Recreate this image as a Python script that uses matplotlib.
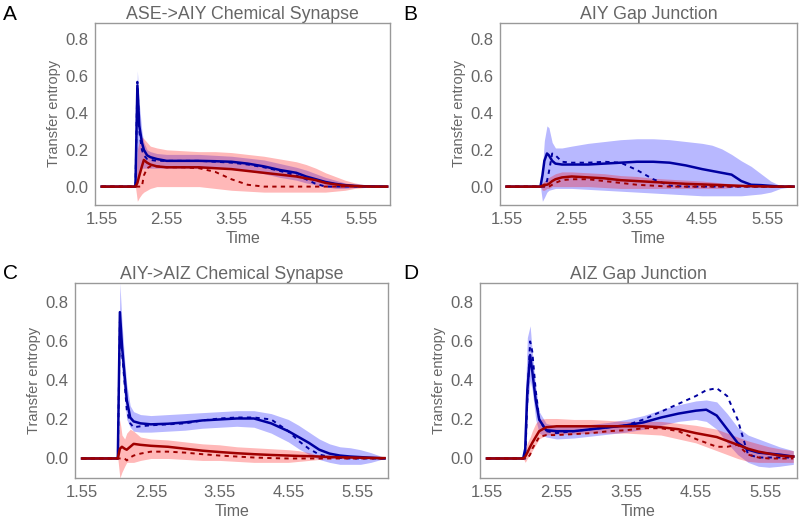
import numpy as np
import matplotlib
matplotlib.use("Agg")
import matplotlib.pyplot as plt

plt.rcParams['font.family'] = ['Liberation Sans', 'DejaVu Sans']

# common time grid
T = [1.55, 2.07, 2.1, 2.13, 2.17, 2.2, 2.25, 2.3, 2.4, 2.55, 2.8, 3.05, 3.3, 3.55,
     3.8, 4.05, 4.3, 4.55, 4.7, 4.85, 5.0, 5.15, 5.3, 5.45, 5.6, 5.75, 5.95]

titles = ["ASE->AIY Chemical Synapse", "AIY Gap Junction",
          "AIY->AIZ Chemical Synapse", "AIZ Gap Junction"]
letters = ["A", "B", "C", "D"]

# panel A
a_blue = [0, 0, 0.55, 0.33, 0.24, 0.2, 0.17, 0.16, 0.15, 0.14, 0.14, 0.14, 0.138, 0.135,
          0.125, 0.11, 0.09, 0.075, 0.055, 0.04, 0.025, 0.015, 0.008, 0.004, 0.002, 0.001, 0]
a_blue_d = [0, 0, 0.57, 0.3, 0.2, 0.17, 0.15, 0.145, 0.14, 0.14, 0.14, 0.14, 0.135, 0.13,
            0.12, 0.105, 0.085, 0.06, 0.04, 0.015, 0, 0, 0, 0, 0, 0, 0]
a_blue_lo = [0, 0, 0.0, 0.1, 0.1, 0.1, 0.1, 0.1, 0.1, 0.1, 0.1, 0.1, 0.1, 0.095,
             0.085, 0.07, 0.05, 0.035, 0.02, 0.01, 0.0, -0.01, -0.01, -0.005, 0, 0, 0]
a_blue_hi = [0, 0, 0.63, 0.45, 0.3, 0.24, 0.2, 0.19, 0.18, 0.175, 0.175, 0.175, 0.17, 0.165,
             0.155, 0.145, 0.125, 0.105, 0.09, 0.07, 0.05, 0.035, 0.02, 0.01, 0.005, 0, 0]
a_red = [0, 0, 0.02, 0.06, 0.11, 0.145, 0.13, 0.12, 0.11, 0.105, 0.105, 0.105, 0.1, 0.095,
         0.085, 0.075, 0.065, 0.055, 0.045, 0.035, 0.02, 0.012, 0.006, 0.003, 0.001, 0, 0]
a_red_d = [0, 0, 0, 0, 0.0, 0.06, 0.1, 0.11, 0.11, 0.105, 0.105, 0.1, 0.08, 0.04,
           0.01, 0.0, 0, 0, 0, 0, 0, 0, 0, 0, 0, 0, 0]
a_red_lo = [0, 0, -0.08, -0.06, -0.04, -0.03, -0.02, -0.01, 0.0, 0.0, 0.0, 0.0, -0.01, -0.02,
            -0.025, -0.03, -0.03, -0.03, -0.03, -0.03, -0.03, -0.025, -0.02, -0.01, -0.005, 0, 0]
a_red_hi = [0, 0, 0.2, 0.25, 0.27, 0.26, 0.24, 0.22, 0.21, 0.2, 0.195, 0.19, 0.19, 0.185,
            0.175, 0.165, 0.15, 0.135, 0.12, 0.1, 0.075, 0.055, 0.035, 0.02, 0.01, 0.003, 0]

# panel B
b_blue = [0, 0, 0.06, 0.14, 0.18, 0.17, 0.14, 0.125, 0.12, 0.12, 0.12, 0.125, 0.13, 0.135,
          0.135, 0.13, 0.115, 0.095, 0.085, 0.075, 0.065, 0.03, 0.01, 0.008, 0.004, 0, 0]
b_blue_d = [0, 0, 0, 0, 0.03, 0.08, 0.18, 0.17, 0.135, 0.13, 0.13, 0.135, 0.13, 0.09,
            0.04, 0.005, 0, 0, 0, 0, 0, 0, 0, 0, 0, 0, 0]
b_blue_lo = [0, 0, -0.08, -0.06, -0.03, -0.02, -0.015, -0.01, -0.01, -0.01, -0.015, -0.02, -0.025, -0.03,
             -0.035, -0.04, -0.045, -0.05, -0.05, -0.05, -0.05, -0.05, -0.045, -0.04, -0.03, -0.01, 0]
b_blue_hi = [0, 0, 0.1, 0.25, 0.33, 0.32, 0.24, 0.21, 0.21, 0.22, 0.235, 0.245, 0.255, 0.26,
             0.26, 0.255, 0.245, 0.235, 0.225, 0.205, 0.175, 0.14, 0.11, 0.07, 0.03, 0.005, 0]
b_red = [0, 0, 0.005, 0.01, 0.01, 0.015, 0.03, 0.04, 0.05, 0.055, 0.05, 0.045, 0.035, 0.03,
         0.025, 0.02, 0.015, 0.012, 0.01, 0.008, 0.006, 0.004, 0.002, 0.001, 0, 0, 0]
b_red_d = [0, 0, 0, 0, -0.005, 0.0, 0.01, 0.02, 0.035, 0.04, 0.04, 0.03, 0.02, 0.01,
           0.005, 0, 0, 0, 0, 0, 0, 0, 0, 0, 0, 0, 0]
b_red_lo = [0, 0, -0.02, -0.02, -0.01, -0.01, 0.0, 0.0, 0.0, 0.0, 0.0, -0.005, -0.01, -0.01,
            -0.01, -0.01, -0.01, -0.01, -0.01, -0.01, -0.005, 0, 0, 0, 0, 0, 0]
b_red_hi = [0, 0, 0.02, 0.03, 0.04, 0.05, 0.06, 0.07, 0.08, 0.08, 0.075, 0.07, 0.06, 0.055,
            0.045, 0.04, 0.035, 0.03, 0.025, 0.02, 0.015, 0.01, 0.005, 0, 0, 0, 0]

# panel C
c_blue = [0, 0, 0.75, 0.58, 0.42, 0.3, 0.21, 0.19, 0.18, 0.175, 0.178, 0.185, 0.195, 0.2,
          0.205, 0.205, 0.18, 0.14, 0.11, 0.08, 0.045, 0.025, 0.015, 0.01, 0.007, 0.004, 0]
c_blue_d = [0, 0, 0.7, 0.55, 0.38, 0.25, 0.18, 0.16, 0.165, 0.17, 0.175, 0.18, 0.195, 0.205,
            0.21, 0.21, 0.2, 0.14, 0.09, 0.05, 0.02, 0.008, 0.003, 0, 0, 0, 0]
c_blue_lo = [0, 0, 0.6, 0.45, 0.3, 0.2, 0.16, 0.14, 0.135, 0.135, 0.14, 0.145, 0.155, 0.16,
             0.165, 0.16, 0.13, 0.085, 0.05, 0.02, -0.005, -0.02, -0.03, -0.03, -0.03, -0.02, 0]
c_blue_hi = [0, 0, 0.9, 0.7, 0.5, 0.38, 0.27, 0.24, 0.225, 0.22, 0.225, 0.23, 0.235, 0.24,
             0.245, 0.245, 0.23, 0.2, 0.17, 0.135, 0.1, 0.075, 0.06, 0.055, 0.045, 0.03, 0.005]
c_red = [0, 0, 0.05, 0.06, 0.05, 0.045, 0.06, 0.075, 0.07, 0.065, 0.06, 0.05, 0.04, 0.033,
         0.027, 0.022, 0.018, 0.015, 0.013, 0.012, 0.01, 0.008, 0.006, 0.005, 0.004, 0.003, 0.002]
c_red_d = [0, 0, 0, 0, 0, -0.01, 0.005, 0.015, 0.025, 0.035, 0.035, 0.03, 0.022, 0.015,
           0.01, 0.005, 0.002, 0, 0, 0, 0, 0, 0, 0, 0, 0, 0]
c_red_lo = [0, 0, -0.1, -0.07, -0.04, -0.02, -0.02, -0.02, -0.01, 0.0, 0.0, -0.005, -0.01, -0.01,
            -0.015, -0.02, -0.02, -0.02, -0.015, -0.01, -0.005, 0, 0, 0, 0, 0, 0]
c_red_hi = [0, 0, 0.2, 0.12, 0.1, 0.13, 0.15, 0.14, 0.11, 0.1, 0.095, 0.085, 0.075, 0.07,
            0.06, 0.055, 0.05, 0.045, 0.04, 0.03, 0.015, 0.008, 0.004, 0, 0, 0, 0]

# panel D
d_blue = [0, 0, 0.05, 0.35, 0.53, 0.45, 0.3, 0.2, 0.145, 0.14, 0.14, 0.15, 0.16, 0.17,
          0.185, 0.21, 0.23, 0.245, 0.25, 0.22, 0.15, 0.08, 0.045, 0.03, 0.025, 0.02, 0.01]
d_blue_d = [0, 0, 0.0, 0.3, 0.6, 0.55, 0.35, 0.2, 0.14, 0.13, 0.14, 0.15, 0.16, 0.17,
            0.2, 0.24, 0.28, 0.32, 0.35, 0.36, 0.32, 0.2, 0.02, 0.005, 0.005, 0.005, 0.005]
d_blue_lo = [0, 0, 0.0, 0.25, 0.4, 0.35, 0.2, 0.13, 0.11, 0.1, 0.105, 0.115, 0.125, 0.135,
             0.15, 0.17, 0.19, 0.2, 0.19, 0.15, 0.08, 0.02, -0.02, -0.04, -0.045, -0.04, -0.03]
d_blue_hi = [0, 0, 0.3, 0.62, 0.68, 0.55, 0.37, 0.24, 0.18, 0.165, 0.165, 0.175, 0.185, 0.2,
             0.22, 0.25, 0.275, 0.295, 0.3, 0.29, 0.23, 0.16, 0.12, 0.1, 0.08, 0.06, 0.04]
d_red = [0, 0, 0.01, 0.03, 0.06, 0.08, 0.11, 0.14, 0.16, 0.165, 0.165, 0.165, 0.165, 0.165,
         0.165, 0.16, 0.15, 0.13, 0.12, 0.11, 0.09, 0.07, 0.05, 0.035, 0.025, 0.015, 0.01]
d_red_d = [0, 0, 0, 0, 0.02, 0.05, 0.08, 0.11, 0.12, 0.12, 0.125, 0.13, 0.14, 0.145,
           0.155, 0.155, 0.14, 0.1, 0.08, 0.06, 0.06, 0.07, 0.02, 0.005, 0, 0, 0]
d_red_lo = [0, 0, -0.02, 0.0, 0.02, 0.04, 0.07, 0.1, 0.12, 0.125, 0.125, 0.13, 0.13, 0.13,
            0.125, 0.12, 0.1, 0.08, 0.06, 0.04, 0.02, 0.0, -0.015, -0.02, -0.02, -0.02, -0.02]
d_red_hi = [0, 0, 0.05, 0.08, 0.11, 0.14, 0.18, 0.2, 0.205, 0.205, 0.2, 0.2, 0.195, 0.19,
            0.19, 0.19, 0.18, 0.17, 0.16, 0.15, 0.13, 0.11, 0.09, 0.075, 0.06, 0.05, 0.04]

panels = [
    (a_blue, a_blue_d, a_blue_lo, a_blue_hi, a_red, a_red_d, a_red_lo, a_red_hi),
    (b_blue, b_blue_d, b_blue_lo, b_blue_hi, b_red, b_red_d, b_red_lo, b_red_hi),
    (c_blue, c_blue_d, c_blue_lo, c_blue_hi, c_red, c_red_d, c_red_lo, c_red_hi),
    (d_blue, d_blue_d, d_blue_lo, d_blue_hi, d_red, d_red_d, d_red_lo, d_red_hi),
]

# axes boxes in figure fractions (left, bottom, width, height)
boxes = [
    (0.119, 0.605, 0.369, 0.351),
    (0.625, 0.605, 0.371, 0.351),
    (0.094, 0.079, 0.391, 0.376),
    (0.600, 0.079, 0.396, 0.376),
]
ylims = [(-0.1, 0.89), (-0.1, 0.89), (-0.1, 0.9), (-0.1, 0.9)]

BLUE = '#0000a0'
RED = '#a00000'
GRAY = '#666666'

fig = plt.figure(figsize=(8, 5.19), dpi=100)
t = np.array(T)

for i, (bl, bd, blo, bhi, rd, rdd, rlo, rhi) in enumerate(panels):
    ax = fig.add_axes(boxes[i])
    ax.fill_between(t, blo, bhi, color='#0000ff', alpha=0.28, linewidth=0)
    ax.fill_between(t, rlo, rhi, color='#ff0000', alpha=0.28, linewidth=0)
    ax.plot(t, bl, color=BLUE, lw=1.8)
    ax.plot(t, bd, color=BLUE, lw=1.4, ls=(0, (2.2, 2.2)))
    ax.plot(t, rd, color=RED, lw=1.8)
    ax.plot(t, rdd, color=RED, lw=1.4, ls=(0, (2.2, 2.2)))

    ax.set_xlim(1.45, 6.0)
    ax.set_ylim(*ylims[i])
    ax.set_xticks([1.55, 2.55, 3.55, 4.55, 5.55])
    ax.set_xticklabels(["1.55", "2.55", "3.55", "4.55", "5.55"])
    ax.set_yticks([0.0, 0.2, 0.4, 0.6, 0.8])
    ax.set_yticklabels(["0.0", "0.2", "0.4", "0.6", "0.8"])
    ax.tick_params(length=0, labelsize=12, colors=GRAY, pad=5)
    for s in ax.spines.values():
        s.set_color('#999999')
        s.set_linewidth(1.0)
    ax.set_xlabel("Time", fontsize=11.5, color=GRAY, labelpad=3)
    ax.set_ylabel("Transfer entropy", fontsize=10.5, color=GRAY, labelpad=3)
    ax.set_title(titles[i], fontsize=12.8, color=GRAY, pad=3)

    lx = 0.004 if i % 2 == 0 else 0.504
    ly = 0.99 if i < 2 else 0.492
    fig.text(lx, ly, letters[i], fontsize=15, color='black', va='top', ha='left')

fig.savefig("out.png", dpi=100)
